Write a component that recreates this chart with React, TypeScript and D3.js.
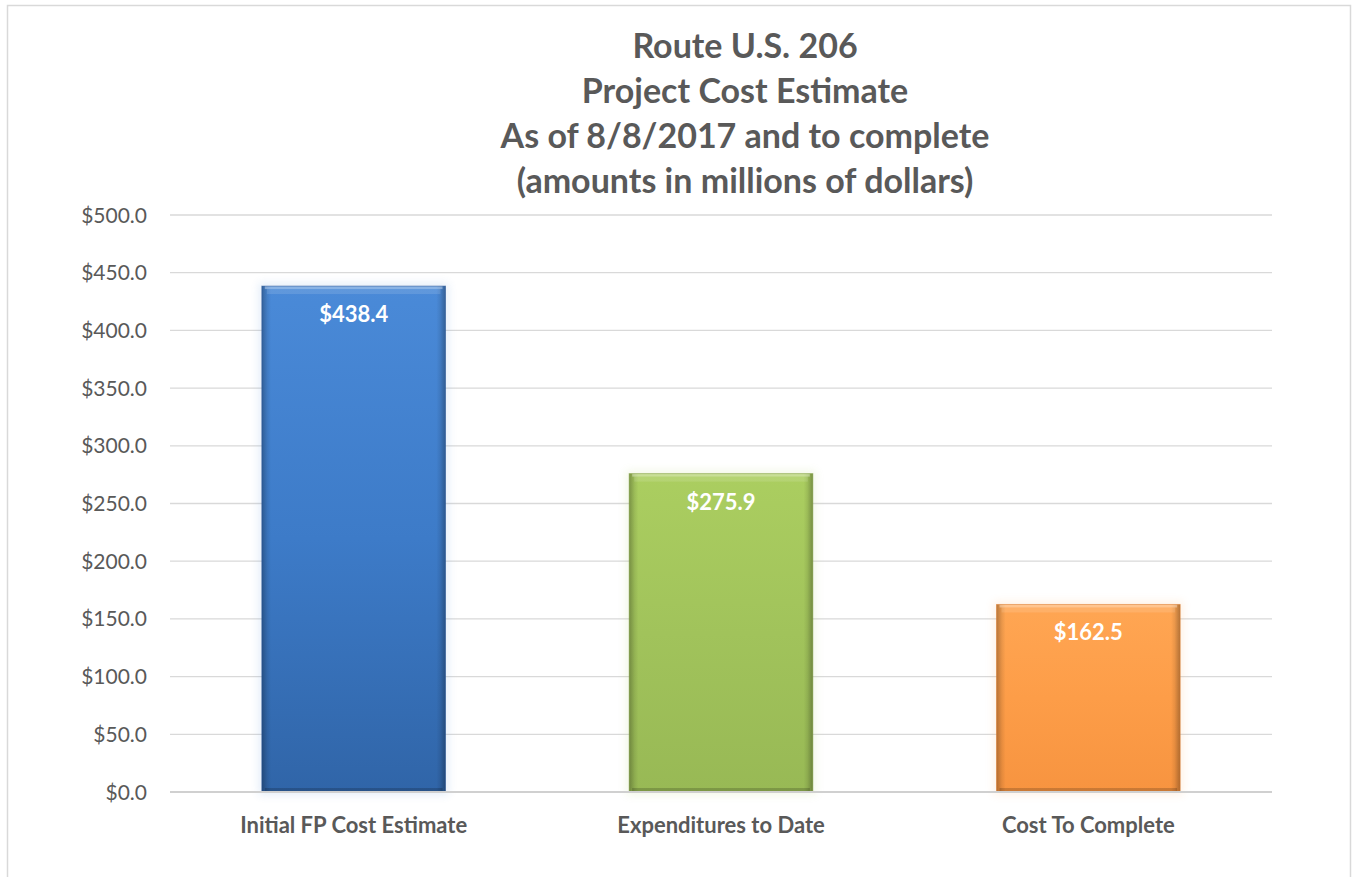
import React from "react";
import * as d3 from "d3";

const categories = ["Initial FP Cost Estimate", "Expenditures to Date", "Cost To Complete"];
const values = [438.4, 275.9, 162.5];
const yTicks = [0, 50, 100, 150, 200, 250, 300, 350, 400, 450, 500];
const titleLines = [
  "Route U.S. 206",
  "Project Cost Estimate",
  "As of 8/8/2017 and to complete",
  "(amounts in millions of dollars)",
];
const palettes = [
  { top: "#4a8ad8", mid: "#3d7bc8", bottom: "#3065a8", edge: "#245090" },
  { top: "#abce60", mid: "#a1c35b", bottom: "#98b955", edge: "#7b9a3c" },
  { top: "#ffa653", mid: "#fd9d48", bottom: "#f79440", edge: "#d9772a" },
];

const W = 1357;
const H = 877;
const FONT = "Lato, 'Open Sans', sans-serif";

export default function App() {
  const left = 170;
  const right = 1272;
  const top = 215;
  const bottom = 792;
  const x = d3.scaleBand<string>().domain(categories).range([left, right]).paddingInner(0.5).paddingOuter(0.25);
  const y = d3.scaleLinear().domain([0, 500]).range([bottom, top]);
  const fmt = (v: number) => "$" + d3.format(".1f")(v);

  return (
    <div style={{ position: "absolute", left: 0, top: 0 }}>
      <svg width={W} height={H} style={{ display: "block" }}>
        <defs>
          {palettes.map((p, i) => (
            <linearGradient key={i} id={`g${i}`} x1="0" y1="0" x2="0" y2="1">
              <stop offset="0" stopColor={p.top} />
              <stop offset="0.5" stopColor={p.mid} />
              <stop offset="1" stopColor={p.bottom} />
            </linearGradient>
          ))}
          <linearGradient id="hbev" x1="0" y1="0" x2="1" y2="0">
            <stop offset="0" stopColor="#000" stopOpacity="0.28" />
            <stop offset="0.03" stopColor="#000" stopOpacity="0.08" />
            <stop offset="0.05" stopColor="#000" stopOpacity="0" />
            <stop offset="0.95" stopColor="#000" stopOpacity="0" />
            <stop offset="0.97" stopColor="#000" stopOpacity="0.08" />
            <stop offset="1" stopColor="#000" stopOpacity="0.3" />
          </linearGradient>
          <filter id="glow" x="-10%" y="-10%" width="120%" height="120%">
            <feGaussianBlur stdDeviation="4" />
          </filter>
        </defs>
        <rect x={0} y={0} width={W} height={H} fill="#fff" />
        <rect x={7.5} y={5.5} width={1343} height={H + 10} fill="#fff" stroke="#d9d9d9" strokeWidth={1.5} />

        {titleLines.map((t, i) => (
          <text
            key={i}
            x={745}
            y={58 + i * 45}
            textAnchor="middle"
            fontFamily={FONT}
            fontWeight="bold"
            fontSize={34}
            fill="#595959"
          >
            {t}
          </text>
        ))}

        {yTicks.map((t) => (
          <g key={t}>
            {t !== 0 && <line x1={left} x2={right} y1={y(t)} y2={y(t)} stroke="#d9d9d9" strokeWidth={1.3} />}
            <text x={147} y={y(t)} dy="0.36em" textAnchor="end" fontFamily={FONT} fontSize={21} fill="#595959">
              {fmt(t)}
            </text>
          </g>
        ))}

        {categories.map((c, i) => {
          const bx = x(c)!;
          const bw = x.bandwidth();
          const by = y(values[i]);
          const bh = y(0) - by;
          const p = palettes[i];
          return (
            <g key={c}>
              <rect x={bx - 3} y={by - 3} width={bw + 6} height={bh + 6} fill={p.top} opacity={0.15} filter="url(#glow)" />
              <rect x={bx} y={by} width={bw} height={bh} fill={`url(#g${i})`} />
              <rect x={bx} y={by} width={bw} height={bh} fill="url(#hbev)" />
              <rect x={bx + 3} y={by} width={bw - 6} height={3} fill="#fff" opacity={0.35} />
              <rect x={bx + 5} y={by + 3} width={bw - 10} height={5} fill="#fff" opacity={0.12} />
              <rect x={bx + 3} y={by + bh - 4} width={bw - 6} height={4} fill="#000" opacity={0.18} />
              <rect x={bx} y={by} width={bw} height={bh} fill="none" stroke={p.edge} strokeOpacity={0.5} strokeWidth={1} />
              <text
                x={bx + bw / 2}
                y={by + 36}
                textAnchor="middle"
                fontFamily={FONT}
                fontWeight="bold"
                fontSize={22}
                fill="#fff"
              >
                {fmt(values[i])}
              </text>
              <text
                x={bx + bw / 2}
                y={833}
                textAnchor="middle"
                fontFamily={FONT}
                fontWeight="bold"
                fontSize={22}
                fill="#595959"
              >
                {c}
              </text>
            </g>
          );
        })}

        <line x1={left} x2={right} y1={y(0)} y2={y(0)} stroke="#d0d0d0" strokeWidth={2} />
      </svg>
    </div>
  );
}
